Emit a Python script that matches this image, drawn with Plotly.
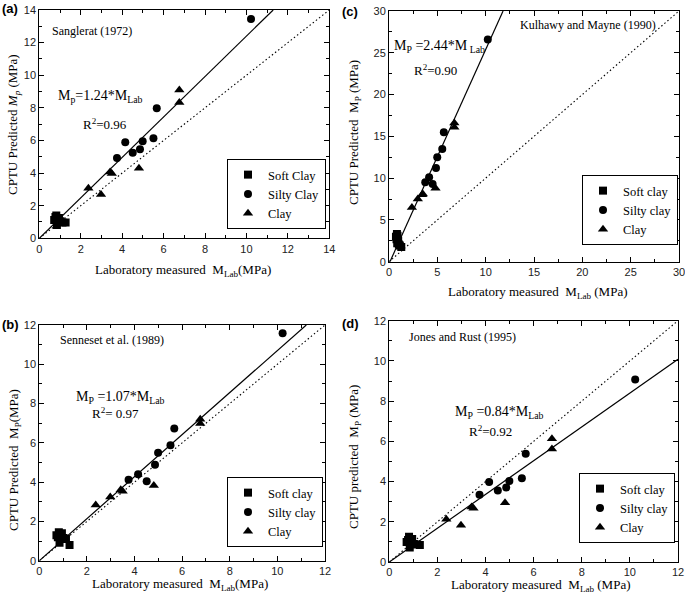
import plotly.graph_objects as go

# ---------------- data ----------------
# Laboratory measured M_Lab (MPa), shared by all four panels
soft_lab = [0.72, 0.78, 0.82, 0.85, 0.88, 0.95, 1.02, 1.12, 1.27]
silty_lab = [3.75, 4.15, 4.51, 4.86, 4.99, 5.51, 5.67, 10.22]
clay_lab = [2.37, 2.98, 3.42, 3.50, 4.81, 6.76, 6.76]

# (a) Sanglerat (1972)
a_soft = [1.12, 1.30, 1.40, 0.82, 1.15, 1.25, 1.05, 0.97, 0.97]
a_silty = [4.93, 5.89, 5.24, 5.46, 5.95, 6.13, 7.98, 13.45]
a_clay = [3.07, 2.68, 4.06, 3.98, 4.29, 9.10, 8.32]
# (b) Senneset et al. (1989)
b_soft = [1.30, 1.20, 1.45, 0.92, 1.35, 1.40, 1.15, 1.10, 0.80]
b_silty = [4.12, 4.40, 4.05, 4.89, 5.49, 5.88, 6.73, 11.58]
b_clay = [2.84, 3.24, 3.61, 3.54, 3.83, 7.20, 6.98]
# (c) Kulhawy and Mayne (1990)
c_soft = [3.00, 2.70, 3.30, 2.20, 3.10, 2.50, 2.05, 1.95, 1.75]
c_silty = [9.5, 10.1, 9.3, 11.2, 12.5, 13.5, 15.5, 26.6]
c_clay = [6.5, 7.5, 8.0, 8.1, 8.8, 16.6, 16.1]
# (d) Jones and Rust (1995)
d_soft = [1.00, 1.10, 1.25, 0.72, 1.05, 1.15, 0.90, 0.87, 0.85]
d_silty = [3.35, 3.98, 3.55, 3.70, 4.03, 4.17, 5.38, 9.08]
d_clay = [2.12, 1.83, 2.73, 2.67, 2.95, 6.13, 5.62]

# fitted slopes and axis maxima
slopes = {"a": 1.24, "b": 1.07, "c": 2.44, "d": 0.84}
axis_max = {"a": 14, "b": 12, "c": 30, "d": 12}
c_fit_x = [0.1, 11.8]
c_fit_y = [0.0, 30.0]

labels_cap = ["Soft Clay", "Silty Clay", "Clay"]
labels_low = ["Soft clay", "Silty clay", "Clay"]

W, H = 685, 597
def fx(p): return p / W
def fy(p): return 1 - p / H

# panel -> (axis suffix, pixel box (x0,x1,y0,y1), legend name, legend box right/bottom)
panels = {
    "a": ("", (39.3, 329.3, 10, 238.3), "legend", (326, 229)),
    "c": ("2", (389, 679, 11, 261.7), "legend2", (678, 245)),
    "b": ("3", (39.3, 325, 325, 560.7), "legend3", (323, 547)),
    "d": ("4", (389.3, 678, 320.7, 562), "legend4", (675, 543)),
}
data = {
    "a": (a_soft, a_silty, a_clay, labels_cap),
    "b": (b_soft, b_silty, b_clay, labels_low),
    "c": (c_soft, c_silty, c_clay, labels_low),
    "d": (d_soft, d_silty, d_clay, labels_low),
}

fig = go.Figure()
layout = {}
serif = "Liberation Serif"
sans = "Liberation Sans"

for key, (suf, (x0, x1, y0, y1), lg, (lr, lb)) in panels.items():
    xa, ya = "x" + suf, "y" + suf
    soft, silty, clay, labs = data[key]
    m = axis_max[key]
    # 1:1 dotted line
    fig.add_trace(go.Scatter(x=[0, m], y=[0, m], mode="lines", xaxis=xa, yaxis=ya,
                             line=dict(color="black", width=1.1, dash="1.5px,2.5px"),
                             showlegend=False, hoverinfo="skip"))
    # fitted line
    if key == "c":
        lx, ly = c_fit_x, c_fit_y
    else:
        k = slopes[key]
        xe = min(m, m / k)
        lx, ly = [0, xe], [0, k * xe]
    fig.add_trace(go.Scatter(x=lx, y=ly, mode="lines", xaxis=xa, yaxis=ya,
                             line=dict(color="black", width=1.2),
                             showlegend=False, hoverinfo="skip"))
    for xs, ys, sym, sz, name in [(soft_lab, soft, "square", 8, labs[0]),
                                  (silty_lab, silty, "circle", 8, labs[1]),
                                  (clay_lab, clay, "triangle-up", 9, labs[2])]:
        fig.add_trace(go.Scatter(x=xs, y=ys, mode="markers", name=name,
                                 xaxis=xa, yaxis=ya, legend=lg,
                                 marker=dict(symbol=sym, size=sz, color="black",
                                             line=dict(width=0))))
    dtick = 5 if key == "c" else 2
    minor = 2.5 if key == "c" else 1
    common = dict(range=[0, m], dtick=dtick, showgrid=False, zeroline=False,
                  showline=True, linecolor="black", linewidth=1, mirror="allticks",
                  ticks="inside", ticklen=5, tickcolor="black", tickwidth=1,
                  tickfont=dict(family=sans, size=11, color="#222"),
                  ticklabeloverflow="allow",
                  minor=dict(ticks="inside", dtick=minor, ticklen=3, tickcolor="black"),
                  automargin=False, fixedrange=True)
    layout["xaxis" + suf] = dict(domain=[fx(x0), fx(x1)], anchor=ya, **common)
    layout["yaxis" + suf] = dict(domain=[fy(y1), fy(y0)], anchor=xa, **common)
    layout[lg] = dict(x=fx(lr), y=fy(lb), xanchor="right", yanchor="bottom",
                      bgcolor="white", bordercolor="black", borderwidth=1,
                      font=dict(family=serif, size=12.5, color="black"),
                      itemwidth=30, tracegroupgap=0)

fig.update_layout(**layout)

ann = []
def add(text, x, y, xref, yref, size=12, xanchor="left", yanchor="middle", angle=0, family=serif):
    ann.append(dict(text=text, x=x, y=y, xref=xref, yref=yref, showarrow=False,
                    xanchor=xanchor, yanchor=yanchor, textangle=angle,
                    font=dict(family=family, size=size, color="black")))

# panel labels
add("<b>(a)</b>", fx(0), fy(9), "paper", "paper", 13, family=sans)
add("<b>(c)</b>", fx(340), fy(12), "paper", "paper", 13, family=sans)
add("<b>(b)</b>", fx(0), fy(325), "paper", "paper", 13, family=sans)
add("<b>(d)</b>", fx(340), fy(323), "paper", "paper", 13, family=sans)

# in-plot texts
add("Sanglerat (1972)", 0.52, 12.7, "x", "y", 12)
add("M<sub>p</sub>=1.24*M<sub>Lab</sub>", 0.8, 8.7, "x", "y", 14)
add("R<sup>2</sup>=0.96", 2.0, 7.0, "x", "y", 13)

add("Kulhawy and Mayne (1990)", 13.3, 28.3, "x2", "y2", 12)
add("M<sub>P</sub> =2.44*M<sub> Lab</sub>", 0.3, 25.7, "x2", "y2", 14)
add("R<sup>2</sup>=0.90", 2.4, 23.0, "x2", "y2", 13)

add("Senneset et al. (1989)", 0.79, 11.24, "x3", "y3", 12)
add("M<sub>P</sub> =1.07*M<sub>Lab</sub>", 1.46, 8.3, "x3", "y3", 14)
add("R<sup>2</sup>= 0.97", 2.13, 7.5, "x3", "y3", 13)

add("Jones and Rust (1995)", 0.74, 11.2, "x4", "y4", 12)
add("M<sub>P</sub> =0.84*M<sub>Lab</sub>", 2.65, 7.45, "x4", "y4", 14)
add("R<sup>2</sup>=0.92", 3.23, 6.5, "x4", "y4", 13)

# axis titles
add("Laboratory measured  M<sub>Lab</sub>(MPa)", fx(183), fy(270), "paper", "paper", 13, xanchor="center")
add("Laboratory measured  M<sub>Lab</sub> (MPa)", fx(537), fy(292), "paper", "paper", 13, xanchor="center")
add("Laboratory measured  M<sub>Lab</sub>(MPa)", fx(180), fy(584), "paper", "paper", 13, xanchor="center")
add("Laboratory measured  M<sub>Lab</sub> (MPa)", fx(540), fy(585), "paper", "paper", 13, xanchor="center")
add("CPTU Predicted <i>M<sub>p</sub></i> (MPa)", fx(14), fy(125), "paper", "paper", 13, xanchor="center", angle=-90)
add("CPTU Predicted  M<sub>P</sub> (MPa)", fx(354), fy(133), "paper", "paper", 13, xanchor="center", angle=-90)
add("CPTU Predicted  M<sub>P</sub>(MPa)", fx(14), fy(460), "paper", "paper", 13, xanchor="center", angle=-90)
add("CPTU predicted  M<sub>P</sub> (MPa)", fx(354), fy(457), "paper", "paper", 13, xanchor="center", angle=-90)

fig.update_layout(annotations=ann, width=W, height=H,
                  margin=dict(l=0, r=0, t=0, b=0),
                  paper_bgcolor="white", plot_bgcolor="white", showlegend=True)

fig.write_html("out.html", config={"displayModeBar": False},
               post_script="document.body.style.margin='0';document.body.style.overflow='hidden';")
